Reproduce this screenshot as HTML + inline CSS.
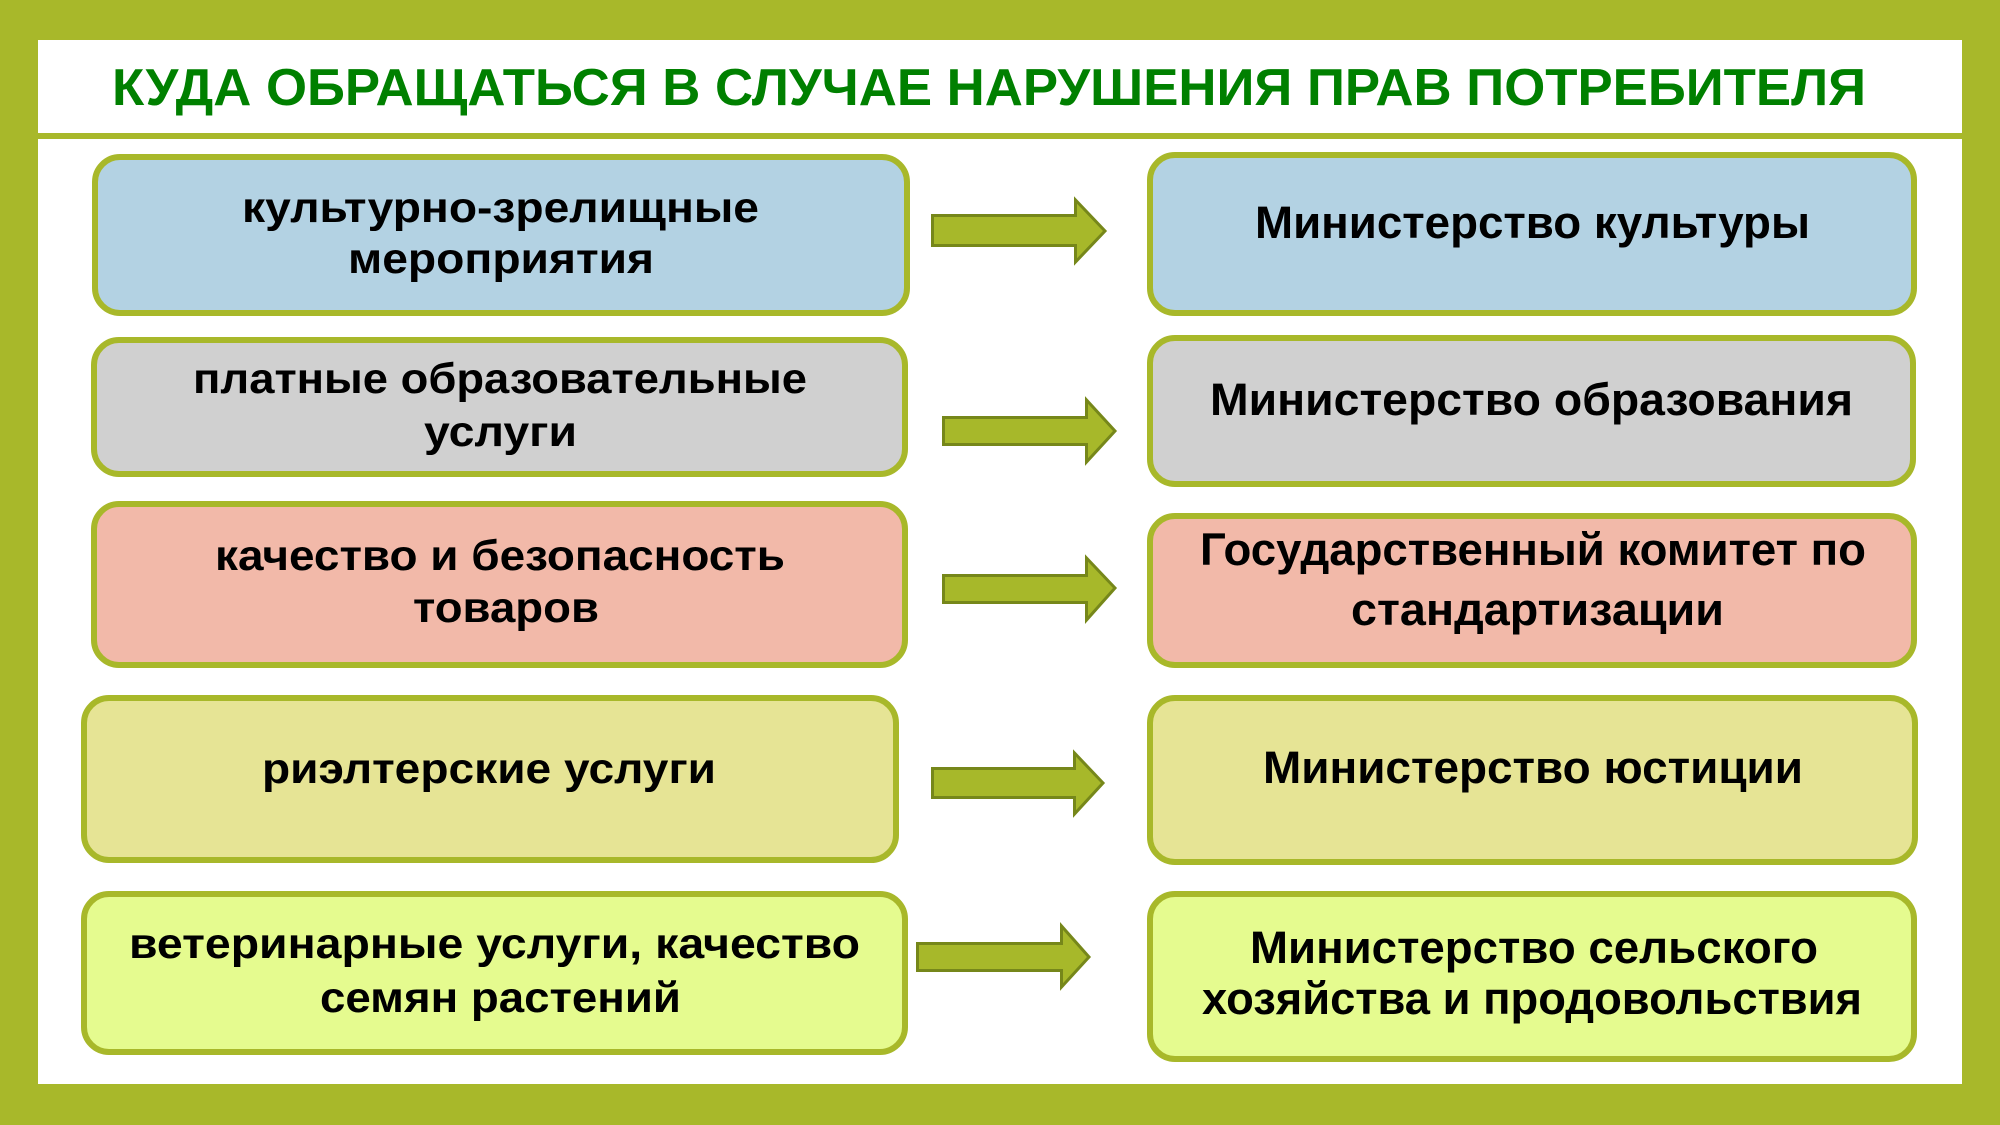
<!DOCTYPE html>
<html>
<head>
<meta charset="utf-8">
<style>
  html, body { margin:0; padding:0; background:#a8b82a; }
  svg { display:block; }
  .t { font-family:"Liberation Sans","Noto Sans CJK SC",sans-serif; font-weight:bold; fill:#000; }
</style>
</head>
<body>
<svg width="2000" height="1125" viewBox="0 0 2000 1125" xmlns="http://www.w3.org/2000/svg">
  <rect x="0" y="0" width="2000" height="1125" fill="#a8b82a"/>
  <rect x="38" y="40" width="1924" height="1044" fill="#ffffff"/>
  <rect x="38" y="133" width="1924" height="6" fill="#a8b82a"/>

  <text class="t" x="112" y="105" font-size="52" style="fill:#008000" textLength="1754" lengthAdjust="spacingAndGlyphs">КУДА ОБРАЩАТЬСЯ В СЛУЧАЕ НАРУШЕНИЯ ПРАВ ПОТРЕБИТЕЛЯ</text>

  <!-- Left boxes -->
  <g stroke="#a8b82a" stroke-width="6">
    <rect x="95" y="157" width="812" height="156" rx="25" fill="#b3d2e3"/>
    <rect x="94" y="340" width="811" height="134" rx="25" fill="#d0d0d0"/>
    <rect x="94" y="504" width="811" height="161" rx="25" fill="#f2b9a9"/>
    <rect x="84" y="698" width="812" height="162" rx="25" fill="#e6e495"/>
    <rect x="84" y="894" width="821" height="158" rx="25" fill="#e5fb8f"/>
    <!-- Right boxes -->
    <rect x="1150" y="155" width="764" height="158" rx="25" fill="#b3d2e3"/>
    <rect x="1150" y="338" width="763" height="146" rx="25" fill="#d0d0d0"/>
    <rect x="1150" y="516" width="764" height="149" rx="25" fill="#f2b9a9"/>
    <rect x="1150" y="698" width="765" height="164" rx="25" fill="#e6e495"/>
    <rect x="1150" y="894" width="764" height="165" rx="25" fill="#e5fb8f"/>
  </g>

  <!-- Arrows -->
  <g fill="#a7b82a" stroke="#76871a" stroke-width="3" stroke-linejoin="miter">
    <polygon points="932.5,215.5 1075.5,215.5 1075.5,200 1105,231 1075.5,262 1075.5,245.5 932.5,245.5"/>
    <polygon points="943.5,417.5 1086.5,417.5 1086.5,400 1115,431 1086.5,462 1086.5,444.5 943.5,444.5"/>
    <polygon points="943.5,575.5 1086.5,575.5 1086.5,558 1115,588 1086.5,620 1086.5,602.5 943.5,602.5"/>
    <polygon points="932.5,768.5 1074.5,768.5 1074.5,753 1103,783 1074.5,814 1074.5,797.5 932.5,797.5"/>
    <polygon points="917.5,943.5 1061.5,943.5 1061.5,926 1089,957 1061.5,987 1061.5,970.5 917.5,970.5"/>
  </g>

  <!-- Left texts -->
  <text class="t" x="242" y="222" font-size="43" textLength="517" lengthAdjust="spacingAndGlyphs">культурно-зрелищные</text>
  <text class="t" x="348" y="273" font-size="43" textLength="306" lengthAdjust="spacingAndGlyphs">мероприятия</text>

  <text class="t" x="193" y="393" font-size="43" textLength="614" lengthAdjust="spacingAndGlyphs">платные образовательные</text>
  <text class="t" x="424" y="446" font-size="43" textLength="153" lengthAdjust="spacingAndGlyphs">услуги</text>

  <text class="t" x="215" y="570" font-size="43" textLength="570" lengthAdjust="spacingAndGlyphs">качество и безопасность</text>
  <text class="t" x="413" y="622" font-size="43" textLength="186" lengthAdjust="spacingAndGlyphs">товаров</text>

  <text class="t" x="262" y="783" font-size="43" textLength="454" lengthAdjust="spacingAndGlyphs">риэлтерские услуги</text>

  <text class="t" x="129" y="958" font-size="43" textLength="731" lengthAdjust="spacingAndGlyphs">ветеринарные услуги, качество</text>
  <text class="t" x="320" y="1012" font-size="43" textLength="361" lengthAdjust="spacingAndGlyphs">семян растений</text>

  <!-- Right texts -->
  <text class="t" x="1255" y="238" font-size="45" textLength="555" lengthAdjust="spacingAndGlyphs">Министерство культуры</text>
  <text class="t" x="1210" y="415" font-size="45" textLength="643" lengthAdjust="spacingAndGlyphs">Министерство образования</text>
  <text class="t" x="1200" y="565" font-size="45" textLength="666" lengthAdjust="spacingAndGlyphs">Государственный комитет по</text>
  <text class="t" x="1351" y="625" font-size="45" textLength="373" lengthAdjust="spacingAndGlyphs">стандартизации</text>
  <text class="t" x="1263" y="783" font-size="45" textLength="540" lengthAdjust="spacingAndGlyphs">Министерство юстиции</text>
  <text class="t" x="1250" y="963" font-size="45" textLength="568" lengthAdjust="spacingAndGlyphs">Министерство сельского</text>
  <text class="t" x="1202" y="1014" font-size="45" textLength="660" lengthAdjust="spacingAndGlyphs">хозяйства и продовольствия</text>
</svg>
</body>
</html>
